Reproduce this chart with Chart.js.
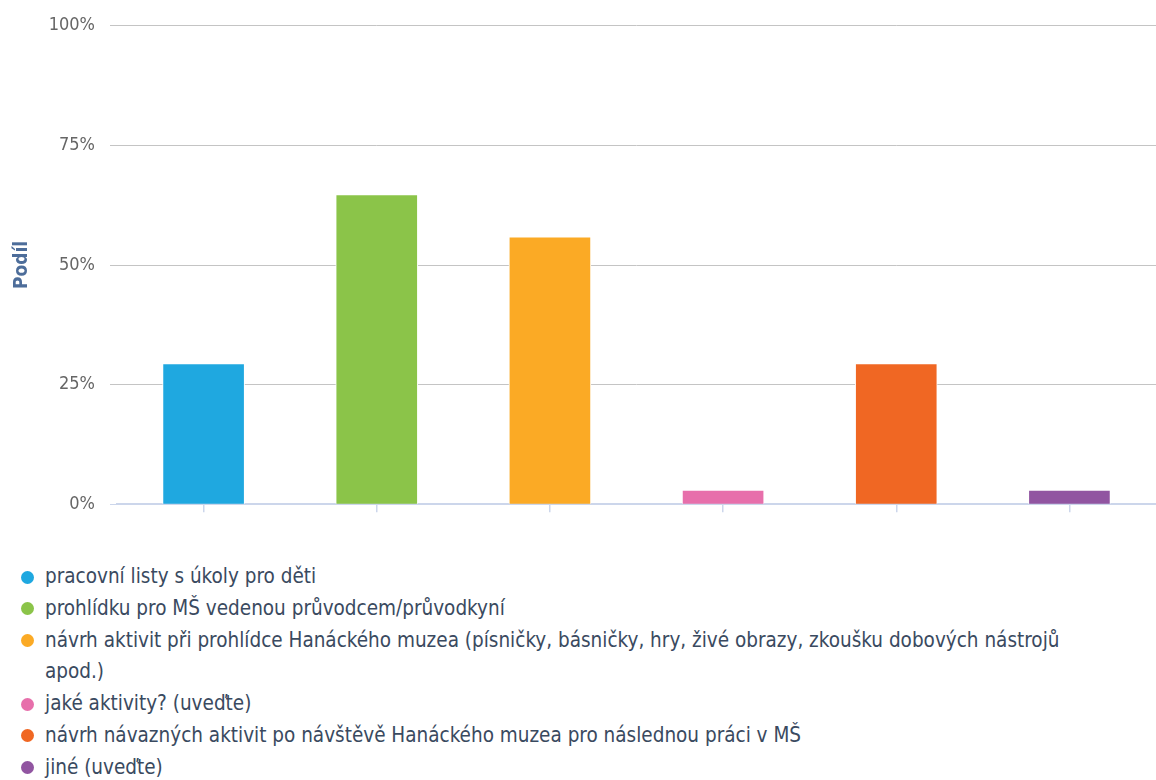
<!DOCTYPE html>
<html>
<head>
<meta charset="utf-8">
<script src="https://cdn.jsdelivr.net/npm/chart.js@4.4.1/dist/chart.umd.min.js"></script>
<style>
  body { margin: 0; background: #fff; }
  #wrap { position: relative; width: 1156px; height: 780px; }
  #legend {
    position: absolute; left: 0; top: 561px;
    font-family: "DejaVu Sans Condensed", "DejaVu Sans", sans-serif;
    font-size: 20.5px; line-height: 31.8px; color: #3a4a60;
  }
  .item { position: relative; padding-left: 45px; width: 1040px; }
  .dot { position: absolute; left: 21px; top: 9.5px; width: 13px; height: 13px; border-radius: 50%; }
</style>
</head>
<body>
<div id="wrap">
  <canvas id="myChart" width="1156" height="530"></canvas>
  <div id="legend"></div>
</div>
<script>
const categories = [
  "pracovní listy s úkoly pro děti",
  "prohlídku pro MŠ vedenou průvodcem/průvodkyní",
  "návrh aktivit při prohlídce Hanáckého muzea (písničky, básničky, hry, živé obrazy, zkoušku dobových nástrojů apod.)",
  "jaké aktivity? (uveďte)",
  "návrh návazných aktivit po návštěvě Hanáckého muzea pro následnou práci v MŠ",
  "jiné (uveďte)"
];
const shares = [29.41, 64.71, 55.88, 2.94, 29.41, 2.94];
const yTicks = [0, 25, 50, 75, 100];
const axisTitle = "Podíl";

const barColors = ["#1fa8e0", "#8bc449", "#fbaa25", "#e76fab", "#f06723", "#9155a1"];

const font = "'DejaVu Sans Condensed', 'DejaVu Sans', sans-serif";

// legend in html, so the long label can wrap like in the original
const legendEl = document.getElementById("legend");
categories.forEach((name, i) => {
  const row = document.createElement("div");
  row.className = "item";
  const dot = document.createElement("span");
  dot.className = "dot";
  dot.style.background = barColors[i];
  row.appendChild(dot);
  row.appendChild(document.createTextNode(name));
  legendEl.appendChild(row);
});

const ctx = document.querySelector("#myChart");

const config = {
  type: "bar",
  data: {
    labels: categories,
    datasets: [{
      data: shares,
      backgroundColor: barColors,
      borderColor: "#ffffff",
      borderWidth: 1,
      barThickness: 82
    }]
  },
  options: {
    responsive: false,
    animation: false,
    layout: { padding: { top: 25, right: 0, bottom: 0, left: 0 } },
    plugins: {
      legend: { display: false },
      tooltip: { enabled: false }
    },
    scales: {
      x: {
        ticks: { display: false },
        grid: { drawOnChartArea: false, offset: false, tickLength: 8, color: "#ccd6eb", lineWidth: 1.5 },
        border: { color: "#ccd6eb", width: 2 },
        afterFit: (s) => { s.height = 17; }
      },
      y: {
        min: yTicks[0],
        max: yTicks[yTicks.length - 1],
        afterBuildTicks: (s) => { s.ticks = yTicks.map(v => ({ value: v })); },
        ticks: {
          callback: (v) => v + "%",
          color: "#666666",
          padding: 15,
          font: { family: font, size: 18 }
        },
        grid: {
          tickLength: 7,
          color: (c) => c.tick && c.tick.value === 0 ? "rgba(0,0,0,0)" : "#c4c4c4",
          tickColor: (c) => c.tick && c.tick.value === 0 ? "#ccd6eb" : "#c4c4c4"
        },
        border: { display: false },
        title: {
          display: true,
          text: axisTitle,
          color: "#4d6d9a",
          padding: { top: 11, bottom: 0 },
          font: { family: font, size: 19, weight: "bold" }
        },
        afterFit: (s) => { s.width = 117; }
      }
    }
  }
};

let chart = new Chart(ctx, config);
</script>
</body>
</html>
